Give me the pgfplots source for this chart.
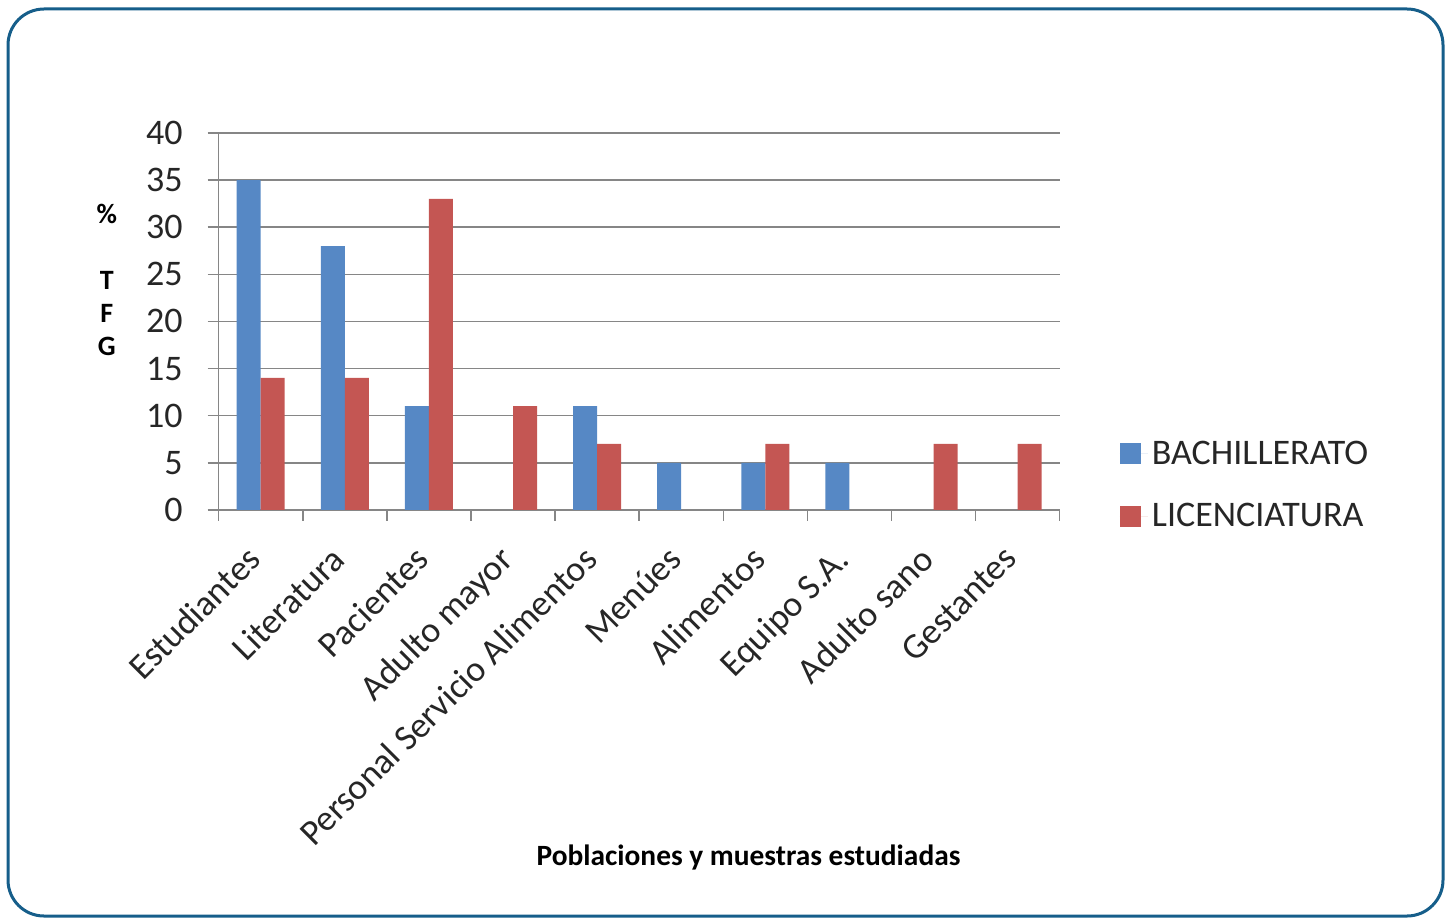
\documentclass[border=0pt]{standalone}
\usepackage{fontspec}
\setmainfont{Carlito}
\usepackage{pgfplots}
\pgfplotsset{compat=1.18}
\definecolor{bach}{RGB}{86,136,197}
\definecolor{lic}{RGB}{196,86,83}
\definecolor{marco}{RGB}{22,94,138}
\definecolor{rejilla}{RGB}{134,134,134}

\begin{document}
\begin{tikzpicture}[x=0.5pt,y=0.5pt]
\useasboundingbox (0,0) rectangle (1450,918);
\draw[marco, line width=1.5pt, rounded corners=18pt] (8,2) rectangle (1443,909);
\begin{axis}[
  at={(260,433)}, anchor=south west,
  scale only axis, width=420.5pt, height=188.5pt,
  ybar=0pt, bar width=12pt,
  xmin=-0.5, xmax=9.5, ymin=0, ymax=40,
  axis x line*=bottom, axis y line*=left,
  axis line style={rejilla, line width=0.75pt, -},
  ytick={0,5,...,40},
  ymajorgrids, grid style={rejilla, line width=0.75pt},
  tick align=outside, major tick length=5.5pt,
  tick style={rejilla, line width=0.75pt},
  xtick={-0.5,0.5,...,9.5},
  x tick label as interval,
  xticklabels={Estudiantes,Literatura,Pacientes,Adulto mayor,Personal Servicio Alimentos,Menúes,Alimentos,Equipo S.A.,Adulto sano,Gestantes},
  xticklabel style={xshift=-7.8pt, yshift=-6.7pt, rotate=45, anchor=north east,
    font=\fontsize{18}{18}\selectfont, text=black!85},
  /pgf/number format/assume math mode=true,
  yticklabel style={xshift=-9pt, font=\fontsize{18}{18}\selectfont, text=black!85},
  xlabel={Poblaciones y muestras estudiadas},
  xlabel style={at={(rel axis cs:0.630,-0.923)}, anchor=center, font=\bfseries\fontsize{14.7}{14.7}\selectfont},
  ylabel={\%\\\mbox{}\\T\\F\\G},
  ylabel style={at={(rel axis cs:-0.133,0.610)}, rotate=-90, anchor=center, align=center, font=\bfseries\fontsize{14}{16.5}\selectfont},
  legend style={at={(1.064,0.066)}, anchor=west, draw=none, fill=none,
    font=\fontsize{18}{18}\selectfont, row sep=14pt, text=black!85},
  legend cell align=left,
  legend image code/.code={\fill[#1, draw=none] (0pt,-5.25pt) rectangle (10.5pt,5.25pt);
    \path (0pt,0pt) -- (14pt,0pt);},
]
\addplot[fill=bach, draw=none] coordinates {(0,35) (1,28) (2,11) (4,11) (5,5) (6,5) (7,5)};
\addlegendentry{BACHILLERATO}
\addplot[fill=lic, draw=none] coordinates {(0,14) (1,14) (2,33) (3,11) (4,7) (6,7) (8,7) (9,7)};
\addlegendentry{LICENCIATURA}
\end{axis}
\end{tikzpicture}
\end{document}
